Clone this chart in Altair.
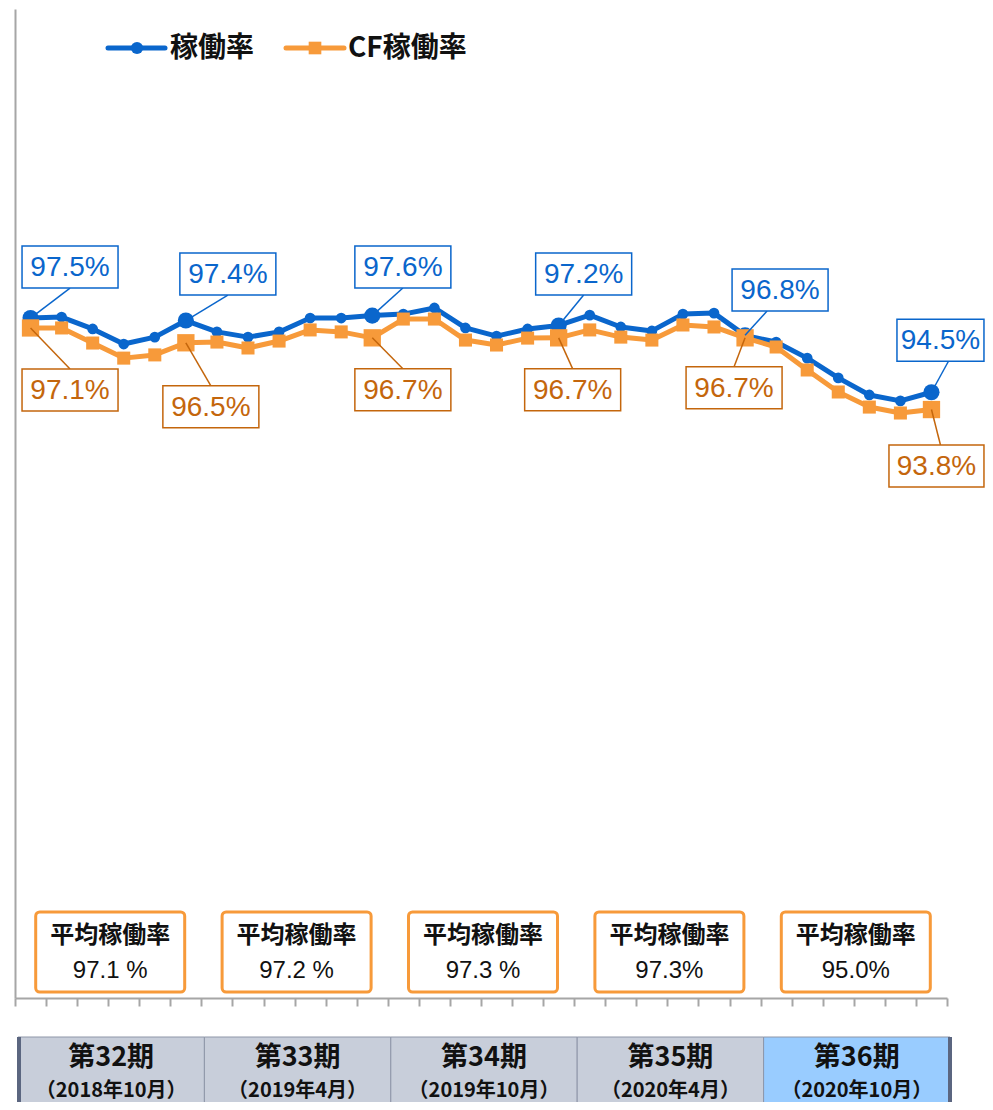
import altair as alt
import pandas as pd

# ---------------- data ----------------
months = list(range(30))  # 30 monthly points, 6 per fiscal period
occupancy = [97.5, 97.54, 97.06, 96.45, 96.73, 97.4, 96.94, 96.73, 96.94, 97.5,
             97.5, 97.6, 97.66, 97.91, 97.1, 96.77, 97.06, 97.2, 97.62, 97.14,
             96.98, 97.66, 97.7, 96.8, 96.53, 95.88, 95.08, 94.39, 94.15, 94.5]
cf_occupancy = [97.1, 97.1, 96.49, 95.88, 96.01, 96.5, 96.53, 96.29, 96.57, 97.02,
                96.94, 96.7, 97.46, 97.46, 96.61, 96.41, 96.69, 96.7, 97.02, 96.73,
                96.61, 97.22, 97.14, 96.7, 96.33, 95.4, 94.51, 93.9, 93.66, 93.8]
labeled_idx = [0, 5, 11, 17, 23, 29]
series_names = ["稼働率", "CF稼働率"]
periods = ["第32期", "第33期", "第34期", "第35期", "第36期"]
period_dates = ["（2018年10月）", "（2019年4月）", "（2019年10月）", "（2020年4月）", "（2020年10月）"]
avg_title = "平均稼働率"
avg_texts = ["97.1 %", "97.2 %", "97.3 %", "97.3%", "95.0%"]

# ---------------- styles ----------------
BLUE = "#0A66CC"
ORANGE = "#F79A3A"
ORANGE_DARK = "#C4660C"
GREY = "#A6A6A6"
CELL = "#C8CEDA"
CELL_HI = "#99CCFF"
EDGE = "#5B6680"
JP = "Noto Sans CJK JP"
LAT = "Liberation Sans"

# label box offsets from their point (px): (dx, dy, width, leader x shift from box centre)
blue_off = {0: (39.5, -51, 96, 0), 5: (42, -46.5, 96, 0), 11: (30.6, -48.6, 96, 0),
            17: (25, -51.5, 96, 0), 23: (35, -45.4, 96, -13), 29: (9, -52, 87, 8)}
orange_off = {0: (39.5, 62, 96, 0), 5: (25, 64, 96, 0), 11: (30.6, 52, 96, 0),
              17: (14, 52, 96, 0), 23: (-11, 50, 96, 0), 29: (5, 56.5, 95, 4)}
BOX_H = 42

df = pd.DataFrame({
    "i": months * 2,
    "v": occupancy + cf_occupancy,
    "s": [series_names[0]] * len(months) + [series_names[1]] * len(months),
})
df["lab"] = df["i"].isin(labeled_idx)

per = pd.DataFrame({
    "k": list(range(len(periods))),
    "name": periods,
    "date": period_dates,
    "avg": avg_texts,
})
per["start"] = per["k"] * 6 - 0.5
per["end"] = per["k"] * 6 + 5.5
per["mid"] = per["k"] * 6 + 2.5
per["title"] = avg_title
per["hi"] = per["k"] == len(periods) - 1

xscale = alt.Scale(domain=[-0.5, 29.5], nice=False, zero=False)
yscale = alt.Scale(domain=[70, 110], nice=False, zero=False)
xaxis = alt.Axis(values=[k - 0.5 for k in range(31)], labels=False, title=None, grid=False,
                 tickSize=8, tickColor=GREY, tickWidth=2, domainColor=GREY, domainWidth=2)
yaxis = alt.Axis(labels=False, ticks=False, title=None, grid=False,
                 domainColor=GREY, domainWidth=2)


def XF(f):
    return alt.X(f, scale=xscale, axis=xaxis)


def YF(f):
    return alt.Y(f, scale=yscale, axis=yaxis)


base = alt.Chart(df)
X = XF("i:Q")
Y = YF("v:Q")

layers = []

# lines and markers
blue = base.transform_filter(alt.datum.s == series_names[0])
orange = base.transform_filter(alt.datum.s == series_names[1])
layers.append(blue.mark_line(color=BLUE, strokeWidth=5, strokeJoin="round").encode(
    x=X, y=Y, order="i:Q"))
layers.append(blue.mark_circle(color=BLUE, opacity=1).encode(
    x=X, y=Y, size=alt.condition("datum.lab", alt.value(260), alt.value(115))))
layers.append(orange.mark_line(color=ORANGE, strokeWidth=5, strokeJoin="round").encode(
    x=X, y=Y, order="i:Q"))
layers.append(orange.mark_square(color=ORANGE, opacity=1).encode(
    x=X, y=Y, size=alt.condition("datum.lab", alt.value(300), alt.value(170))))

# fiscal period table (below axis)
pbase = alt.Chart(per)
layers.append(pbase.mark_rect(stroke="#8E96A8", strokeWidth=1, xOffset=3, x2Offset=3).encode(
    x=XF("start:Q"), x2="end:Q", y=alt.value(1028), y2=alt.value(1110),
    fill=alt.condition("datum.hi", alt.value(CELL_HI), alt.value(CELL))))
layers.append(pbase.transform_filter("datum.k == 0").mark_rect(color=EDGE, xOffset=2, x2Offset=6).encode(
    x=XF("start:Q"), x2="start:Q", y=alt.value(1028), y2=alt.value(1110)))
layers.append(pbase.transform_filter("datum.k == 4").mark_rect(color=EDGE, xOffset=1, x2Offset=5).encode(
    x=XF("end:Q"), x2="end:Q", y=alt.value(1028), y2=alt.value(1110)))
layers.append(pbase.mark_text(font=JP, fontSize=27, fontWeight="bold", color="#111111",
                              baseline="middle", dx=3).encode(
    x=XF("mid:Q"), y=alt.value(1049), text="name:N"))
layers.append(pbase.mark_text(font=JP, fontSize=20, fontWeight="bold", color="#111111",
                              baseline="middle", dx=3).encode(
    x=XF("mid:Q"), y=alt.value(1082), text="date:N"))

# average boxes
layers.append(pbase.mark_rect(fill="white", stroke=ORANGE, strokeWidth=3, cornerRadius=4,
                              xOffset=-72.5, x2Offset=76.5).encode(
    x=XF("mid:Q"), x2="mid:Q", y=alt.value(903), y2=alt.value(983)))
layers.append(pbase.mark_text(font=JP, fontSize=24, fontWeight="bold", color="#111111",
                              baseline="middle", dx=2).encode(
    x=XF("mid:Q"), y=alt.value(927), text="title:N"))
layers.append(pbase.mark_text(font=LAT, fontSize=24, color="#111111",
                              baseline="middle", dx=2).encode(
    x=XF("mid:Q"), y=alt.value(962), text="avg:N"))


def add_labels(src, offs, col, below):
    for idx, (dx, dy, w, lx) in offs.items():
        d = src.transform_filter(alt.datum.i == idx).transform_calculate(
            lbl="format(datum.v, '.1f') + '%'")
        edge = dy - BOX_H / 2 if below else dy + BOX_H / 2
        layers.append(d.mark_rule(color=col, strokeWidth=1.5, x2Offset=dx + lx, y2Offset=edge).encode(
            x=X, y=Y, x2="i:Q", y2="v:Q"))
        layers.append(d.mark_rect(fill="white", stroke=col, strokeWidth=1.5,
                                  xOffset=dx - w / 2, x2Offset=dx + w / 2,
                                  yOffset=dy - BOX_H / 2, y2Offset=dy + BOX_H / 2).encode(
            x=X, y=Y, x2="i:Q", y2="v:Q"))
        layers.append(d.mark_text(font=LAT, fontSize=28, color=col, dx=dx, dy=dy + 1,
                                  baseline="middle", align="center").encode(
            x=X, y=Y, text="lbl:N"))


add_labels(blue, blue_off, BLUE, False)
add_labels(orange, orange_off, ORANGE_DARK, True)

# legend
one = alt.Chart(pd.DataFrame({"a": [0]}))
layers.append(one.mark_rule(color=BLUE, strokeWidth=5, strokeCap="round").encode(
    x=alt.value(93), x2=alt.value(150), y=alt.value(39)))
layers.append(one.mark_circle(color=BLUE, opacity=1, size=150).encode(
    x=alt.value(122), y=alt.value(39)))
layers.append(one.mark_text(font=JP, fontSize=28, fontWeight="bold", color="#111111",
                            align="left", baseline="middle", text=series_names[0]).encode(
    x=alt.value(155), y=alt.value(40)))
layers.append(one.mark_rule(color=ORANGE, strokeWidth=5, strokeCap="round").encode(
    x=alt.value(271), x2=alt.value(329), y=alt.value(39)))
layers.append(one.mark_square(color=ORANGE, opacity=1, size=160).encode(
    x=alt.value(300), y=alt.value(39)))
layers.append(one.mark_text(font=JP, fontSize=28, fontWeight="bold", color="#111111",
                            align="left", baseline="middle", text=series_names[1]).encode(
    x=alt.value(333), y=alt.value(40)))

chart = alt.layer(*layers).properties(
    width=932, height=989,
    padding={"left": 7, "top": 1, "right": 38, "bottom": 104},
    autosize=alt.AutoSizeParams(type="none"),
    background="white",
).configure_view(stroke=None)

chart.save("out.html", embed_options={"renderer": "svg", "actions": False})
